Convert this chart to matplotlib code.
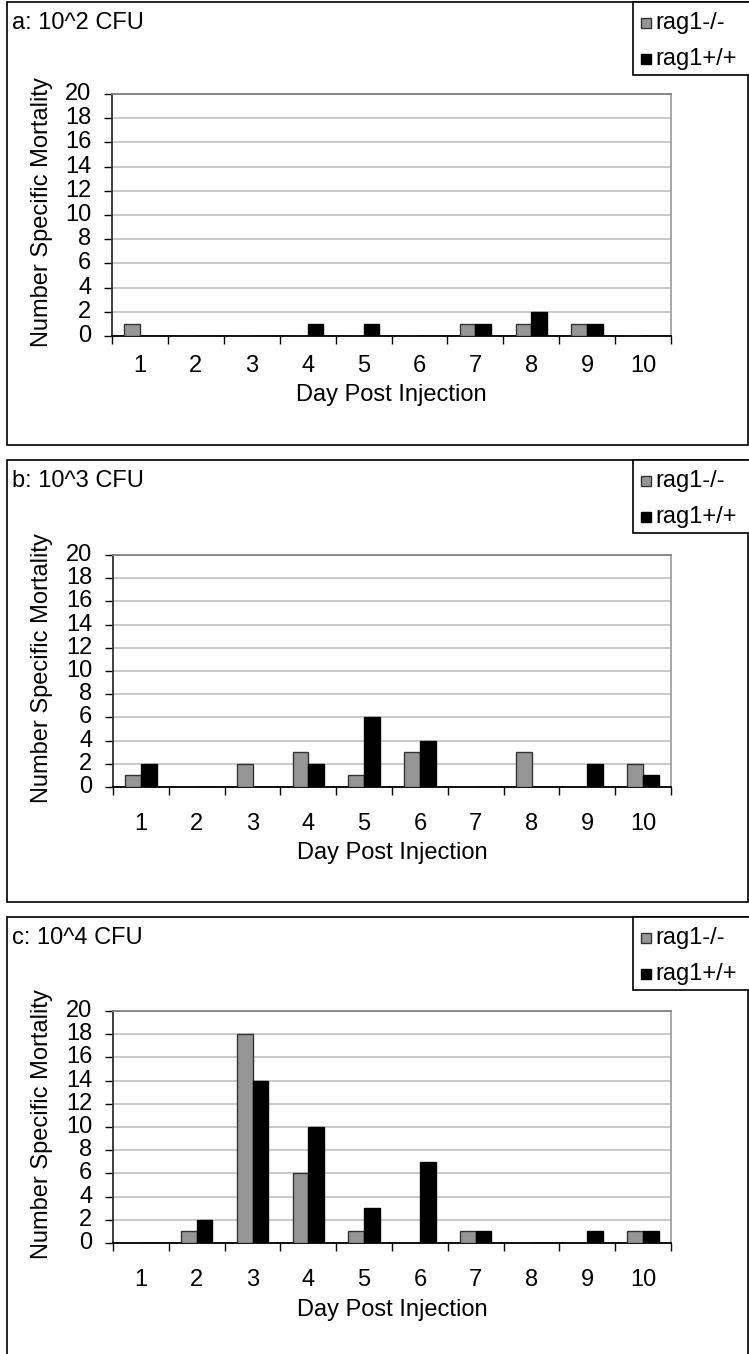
import numpy as np
import matplotlib.pyplot as plt
from matplotlib.patches import Rectangle

plt.rcParams['font.family'] = ['Liberation Sans', 'DejaVu Sans']

# Data
days = [1, 2, 3, 4, 5, 6, 7, 8, 9, 10]
titles = ["a: 10^2 CFU", "b: 10^3 CFU", "c: 10^4 CFU"]
series_names = ["rag1-/-", "rag1+/+"]
rag_ko_a = [1, 0, 0, 0, 0, 0, 1, 1, 1, 0]
rag_wt_a = [0, 0, 0, 1, 1, 0, 1, 2, 1, 0]
rag_ko_b = [1, 0, 2, 3, 1, 3, 0, 3, 0, 2]
rag_wt_b = [2, 0, 0, 2, 6, 4, 0, 0, 2, 1]
rag_ko_c = [0, 1, 18, 6, 1, 0, 1, 0, 0, 1]
rag_wt_c = [0, 2, 14, 10, 3, 7, 1, 0, 1, 1]

W, H = 749, 1354
GRAY = "#969696"
FS = 17

fig = plt.figure(figsize=(W / 100, H / 100), dpi=100)


def fx(x):
    return x / W


def fy(y):
    return 1 - y / H


def box(x0, y0, x1, y1, **kw):
    fig.add_artist(Rectangle((fx(x0), fy(y1)), fx(x1) - fx(x0), fy(y0) - fy(y1),
                             transform=fig.transFigure, fill=kw.pop("fill", False), **kw))


# panel box top/bottom, plot area (left, top, right, bottom) in pixels, tick label pad
panels = [
    (2, 445, (112, 94, 671, 336), 14),
    (460, 902, (113, 555, 671, 787), 19),
    (917, 1360, (113, 1011, 671, 1243), 19),
]
ko = [rag_ko_a, rag_ko_b, rag_ko_c]
wt = [rag_wt_a, rag_wt_b, rag_wt_c]

x = np.array(days)
bw = 0.28

for i, (top, bot, (l, t, r, b), xpad) in enumerate(panels):
    box(7, top, 748, bot, edgecolor="black", linewidth=1.2)

    ax = fig.add_axes([fx(l), fy(b), fx(r) - fx(l), fy(t) - fy(b)])
    ax.bar(x - bw / 2, ko[i], bw, color=GRAY, edgecolor="#333333", linewidth=1, zorder=3)
    ax.bar(x + bw / 2, wt[i], bw, color="black", edgecolor="black", linewidth=1, zorder=3)

    ax.set_xlim(0.5, 10.5)
    ax.set_ylim(0, 20)
    ax.set_yticks(range(0, 21, 2))
    ax.yaxis.grid(True, color="#c0c0c0", linewidth=1.2, zorder=0)
    ax.set_axisbelow(True)
    ax.set_xticks(days)
    ax.set_xticks(np.arange(0.5, 11, 1), minor=True)
    ax.tick_params(axis="x", which="major", length=0, pad=xpad, labelsize=FS)
    ax.tick_params(axis="x", which="minor", length=6, width=1, direction="out", color="black")
    ax.tick_params(axis="y", length=6, width=1, direction="out", pad=9, labelsize=FS, color="black")
    for lab in ax.get_yticklabels():
        lab.set_verticalalignment("center")
    ax.spines["left"].set_color("#303030")
    ax.spines["left"].set_linewidth(1.3)
    ax.spines["bottom"].set_color("black")
    ax.spines["bottom"].set_linewidth(1.3)
    ax.spines["top"].set_color("#808080")
    ax.spines["right"].set_color("#a0a0a0")
    ax.spines["top"].set_linewidth(1.3)
    ax.spines["right"].set_linewidth(1.3)

    # titles and axis labels
    fig.text(fx(12), fy(top + 21), titles[i], fontsize=FS, va="center", ha="left")
    fig.text(fx(42), fy((t + b) / 2 - 3), "Number Specific Mortality", fontsize=FS,
             rotation=90, va="center", ha="center")
    fig.text(fx((l + r) / 2), fy(top + 393), "Day Post Injection", fontsize=FS,
             va="center", ha="center")

    # legend box
    box(633, top, 770, top + 73, edgecolor="black", linewidth=1.2, facecolor="white", fill=True)
    for j, (name, col, ec) in enumerate([(series_names[0], GRAY, "#333333"),
                                         (series_names[1], "black", "black")]):
        yc = top + 21 + 36 * j
        box(641, yc - 5, 651, yc + 5, facecolor=col, edgecolor=ec, linewidth=1, fill=True)
        fig.text(fx(655), fy(yc), name, fontsize=FS, va="center", ha="left")

fig.savefig("out.png", dpi=100)
